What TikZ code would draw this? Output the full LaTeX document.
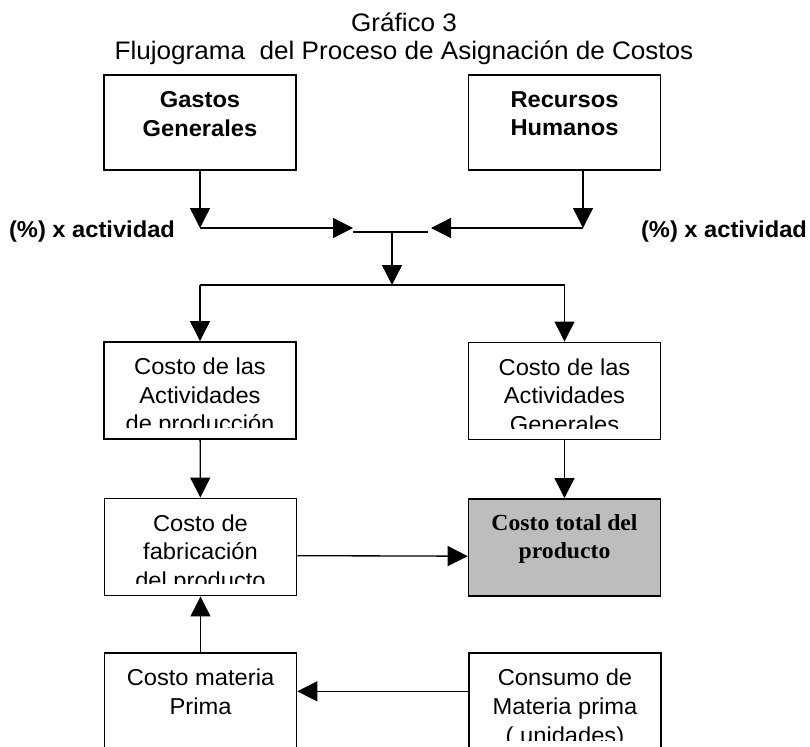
\documentclass[tikz,border=0pt]{standalone}
\usepackage{fontspec}
\setmainfont{Liberation Sans}[FakeStretch=1.03]
\newfontfamily\serifbold{Liberation Serif}[FakeStretch=1.03]
\usepackage{tikz}
\usetikzlibrary{arrows.meta}
\usetikzlibrary{positioning}

\begin{document}
\begin{tikzpicture}[x=0.75pt, y=-0.75pt,
    caja/.style={draw, line width=1.2pt, minimum width=144pt, minimum height=73pt, inner sep=0pt},
    texto/.style={anchor=north, align=center, inner sep=0pt, yshift=-12.5pt, font=\fontsize{17.25pt}{21.5pt}\selectfont},
    negrita/.style={texto, font=\fontsize{17.25pt}{21.5pt}\selectfont\bfseries},
    flecha/.style={line width=1pt, -{Triangle[length=15pt, width=15pt]}},
    linea/.style={line width=1pt}
    ]
\useasboundingbox (0,0) rectangle (810,746);

\node[align=center, anchor=north, inner sep=0pt, font=\fontsize{19pt}{21pt}\selectfont] (titulo) at (404,13)
    {Gráfico 3\\Flujograma\ \ del Proceso de Asignación de Costos};

\node[caja, minimum height=71pt] (gastos) at (200,122.5) {};
\node[negrita] at (gastos.north) {Gastos\\Generales};
\node[caja, minimum height=71pt] (recursos) at (564.5,122.5) {};
\node[negrita] at (recursos.north) {Recursos\\Humanos};

\node[negrita, anchor=center, yshift=0pt] (pctizq) at (92,215) {(\%) x actividad};
\node[negrita, anchor=center, yshift=0pt] (pctder) at (724,215) {(\%) x actividad};

\node[caja] (prod) at (200,390.5) {};
\node[caja] (gen) at (564.5,391) {};
\node[caja] (fab) at (200.5,547) {};
\node[caja, fill=black!26] (total) at (564.5,547.5) {};
\node[caja, minimum height=73.5pt] (materia) at (200.5,702) {};
\node[caja, minimum height=73.5pt] (consumo) at (565,702) {};

\begin{scope}
\clip (prod.north west) rectangle ([yshift=9pt]prod.south east);
\node[texto] at (prod.north) {Costo de las\\Actividades\\de producción};
\end{scope}
\begin{scope}
\clip (gen.north west) rectangle ([yshift=9pt]gen.south east);
\node[texto] at (gen.north) {Costo de las\\Actividades\\Generales};
\end{scope}
\begin{scope}
\clip (fab.north west) rectangle ([yshift=9.5pt]fab.south east);
\node[texto] at (fab.north) {Costo de\\fabricación\\del producto};
\end{scope}
\node[texto, font=\fontsize{17.25pt}{21pt}\serifbold\bfseries] at (total.north) {Costo total del\\producto};
\node[texto] at (materia.north) {Costo materia\\Prima};
\begin{scope}
\clip (consumo.north west) rectangle ([yshift=8.5pt]consumo.south east);
\node[texto] at (consumo.north) {Consumo de\\Materia prima\\( unidades)};
\end{scope}

\coordinate (gl) at (200,228);
\coordinate (jl) at (353,228);
\coordinate (rl) at (583,228);
\coordinate (jr) at (431,228);
\coordinate (ja) at (353,232);
\coordinate (jb) at (428,232);
\coordinate (jm) at (392,232);
\coordinate (rep) at (392,285);

\draw[flecha] (gastos.south) -- (gl);
\draw[flecha] (gl) -- (jl);
\draw[flecha] (rl |- recursos.south) -- (rl);
\draw[flecha] (rl) -- (jr);
\draw[linea] (ja) -- (jb);
\draw[flecha] (jm) -- (rep);
\draw[linea] (rep -| prod.north) -- (rep -| gen.north);
\draw[flecha] (rep -| prod.north) -- (prod.north);
\draw[flecha] (rep -| gen.north) -- (gen.north);

\draw[flecha] (prod) -- (fab);
\draw[flecha] (gen) -- (total);
\draw[flecha] ([yshift=-6.5pt]fab.east) -- ([yshift=-6.5pt]total.west);
\draw[flecha] (materia) -- (fab);
\draw[flecha] ([yshift=8pt]consumo.west) -- ([yshift=8pt]materia.east);

\end{tikzpicture}
\end{document}
